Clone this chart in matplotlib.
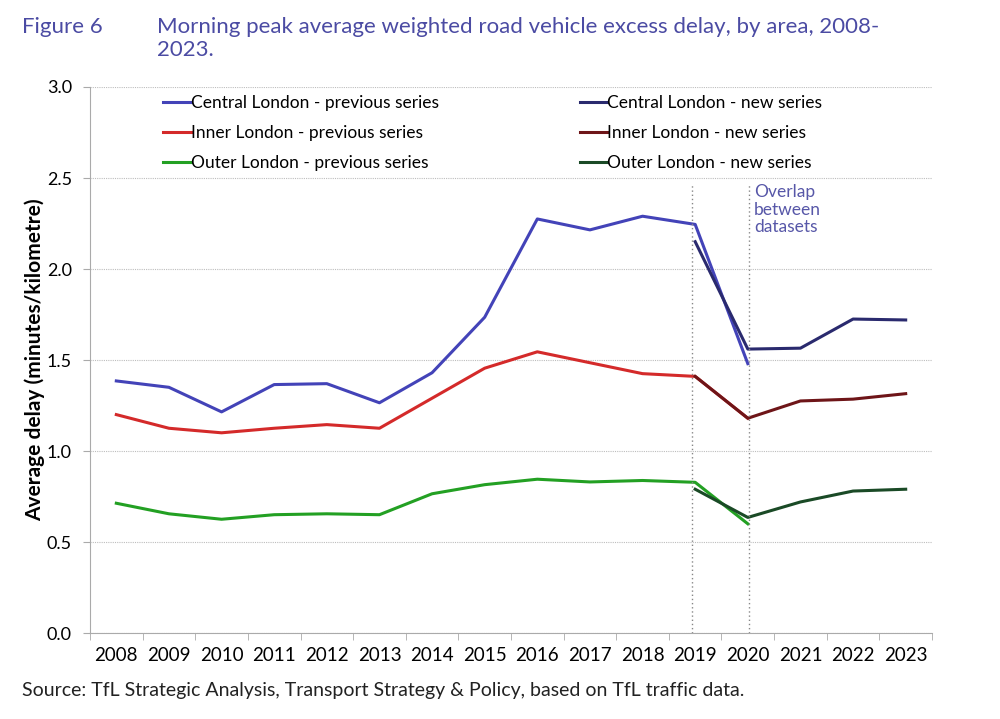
import matplotlib
matplotlib.use("Agg")
import matplotlib.pyplot as plt
import numpy as np

plt.rcParams['font.family'] = ['Lato', 'DejaVu Sans']

years = [str(y) for y in range(2008, 2024)]

# previous series 2008-2020
central_prev = [1.385, 1.35, 1.215, 1.365, 1.37, 1.265, 1.43, 1.735, 2.275, 2.215, 2.29, 2.245, 1.48]
inner_prev = [1.20, 1.125, 1.10, 1.125, 1.145, 1.125, 1.29, 1.455, 1.545, 1.485, 1.425, 1.41, 1.18]
outer_prev = [0.713, 0.655, 0.625, 0.65, 0.655, 0.65, 0.765, 0.815, 0.845, 0.83, 0.838, 0.828, 0.60]

# new series 2019-2023
central_new = [2.15, 1.56, 1.565, 1.725, 1.72]
inner_new = [1.41, 1.18, 1.275, 1.285, 1.315]
outer_new = [0.79, 0.635, 0.72, 0.78, 0.79]

fig = plt.figure(figsize=(10, 7.19), dpi=100)
ax = fig.add_axes([0.09, 0.1196, 0.842, 0.7594])

x_prev = np.arange(len(central_prev))
x_new = np.arange(11, 11 + len(central_new))

ax.plot(x_prev, central_prev, color='#4343B8', lw=2.2, label='Central London - previous series')
ax.plot(x_prev, inner_prev, color='#D42A2A', lw=2.2, label='Inner London - previous series')
ax.plot(x_prev, outer_prev, color='#23A023', lw=2.2, label='Outer London - previous series')
ax.plot(x_new, central_new, color='#2A2A6E', lw=2.2, label='Central London - new series')
ax.plot(x_new, inner_new, color='#6E1518', lw=2.2, label='Inner London - new series')
ax.plot(x_new, outer_new, color='#1A4A26', lw=2.2, label='Outer London - new series')

ax.set_xlim(-0.5, 15.5)
ax.set_ylim(0, 3.0)
ax.set_yticks(np.arange(0, 3.01, 0.5))
ax.set_yticklabels([f'{v:.1f}' for v in np.arange(0, 3.01, 0.5)], fontsize=13)
ax.grid(axis='y', color='#bdbdbd', lw=0.8, ls=(0, (1, 1)))
ax.set_axisbelow(True)

ax.set_xticks(np.arange(16))
ax.set_xticklabels(years, fontsize=13.5)
ax.set_xticks(np.arange(-0.5, 16, 1), minor=True)
ax.tick_params(axis='x', which='major', length=0, pad=10)
ax.tick_params(axis='x', which='minor', length=5, color='#aaaaaa', direction='out')
ax.tick_params(axis='y', length=5, color='#aaaaaa', pad=8)

for s in ['top', 'right']:
    ax.spines[s].set_visible(False)
for s in ['left', 'bottom']:
    ax.spines[s].set_color('#aaaaaa')

ax.set_ylabel('Average delay (minutes/kilometre)', fontsize=15, fontweight='bold', labelpad=1)

# overlap markers
for xv in [10.94, 12.03]:
    ax.plot([xv, xv], [0, 2.46], color='#888888', lw=1, ls=(0, (1, 2)))
ax.text(12.12, 2.465, 'Overlap\nbetween\ndatasets', color='#5757A8', fontsize=12.5,
        va='top', ha='left', linespacing=1.12)

h, l = ax.get_legend_handles_labels()
leg1 = ax.legend(h[:3], l[:3], loc='upper left', bbox_to_anchor=(0.068, 1.014), frameon=False,
                 fontsize=12.5, handlelength=1.6, handletextpad=0.0, labelspacing=0.82)
ax.add_artist(leg1)
ax.legend(h[3:], l[3:], loc='upper left', bbox_to_anchor=(0.563, 1.014), frameon=False,
          fontsize=12.5, handlelength=1.6, handletextpad=0.0, labelspacing=0.82)

fig.text(0.022, 0.963, 'Figure 6', color='#4B4BA3', fontsize=16, va='center')
fig.text(0.157, 0.963, 'Morning peak average weighted road vehicle excess delay, by area, 2008-',
         color='#4B4BA3', fontsize=16, va='center')
fig.text(0.157, 0.931, '2023.', color='#4B4BA3', fontsize=16, va='center')

fig.text(0.022, 0.040, 'Source: TfL Strategic Analysis, Transport Strategy & Policy, based on TfL traffic data.',
         color='#222222', fontsize=14, va='center')

fig.savefig('out.png', dpi=100)
